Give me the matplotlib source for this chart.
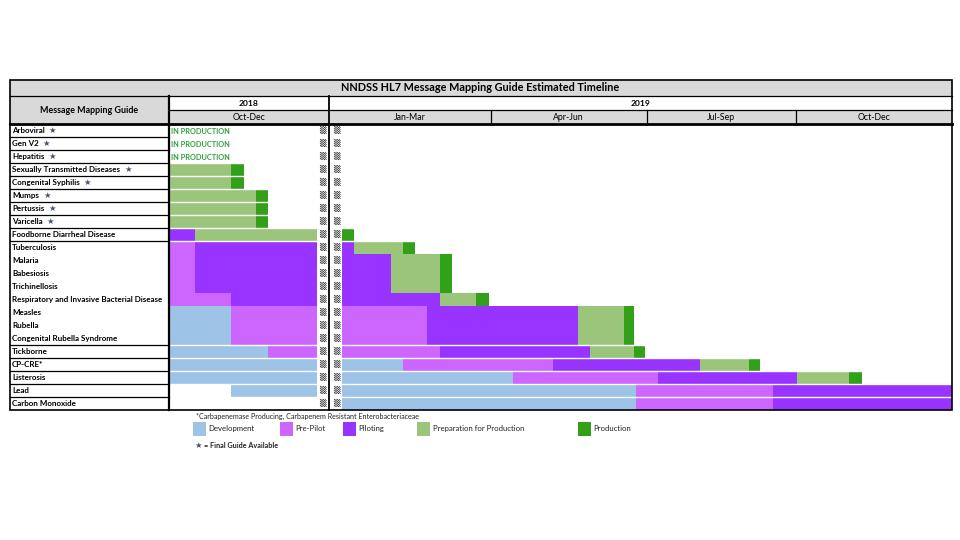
import matplotlib
matplotlib.use("Agg")
from matplotlib import pyplot as plt
from matplotlib.patches import Rectangle

plt.rcParams['font.family'] = ['Lato', 'DejaVu Sans']

# timeline units are weeks counted from Oct 2018 (12-14 is the year break)
guides = ["Arboviral", "Gen V2", "Hepatitis", "Sexually Transmitted Diseases",
          "Congenital Syphilis", "Mumps", "Pertussis", "Varicella",
          "Foodborne Diarrheal Disease", "Tuberculosis", "Malaria", "Babesiosis",
          "Trichinellosis", "Respiratory and Invasive Bacterial Disease", "Measles",
          "Rubella", "Congenital Rubella Syndrome", "Tickborne", "CP-CRE*",
          "Listerosis", "Lead", "Carbon Monoxide"]
final_guide = ["Arboviral", "Gen V2", "Hepatitis", "Sexually Transmitted Diseases",
               "Congenital Syphilis", "Mumps", "Pertussis", "Varicella"]
in_production = ["Arboviral", "Gen V2", "Hepatitis"]

development = [("Measles", 0, 5), ("Rubella", 0, 5), ("Congenital Rubella Syndrome", 0, 5),
               ("Tickborne", 0, 8), ("CP-CRE*", 0, 12), ("CP-CRE*", 14, 19),
               ("Listerosis", 0, 12), ("Listerosis", 14, 28),
               ("Lead", 5, 12), ("Lead", 14, 38), ("Carbon Monoxide", 14, 38)]
pre_pilot = [("Tuberculosis", 0, 2), ("Malaria", 0, 2), ("Babesiosis", 0, 2),
             ("Trichinellosis", 0, 2), ("Respiratory and Invasive Bacterial Disease", 0, 5),
             ("Measles", 5, 12), ("Measles", 14, 21), ("Rubella", 5, 12), ("Rubella", 14, 21),
             ("Congenital Rubella Syndrome", 5, 12), ("Congenital Rubella Syndrome", 14, 21),
             ("Tickborne", 8, 12), ("Tickborne", 14, 22), ("CP-CRE*", 19, 31.3),
             ("Listerosis", 28, 39.8), ("Lead", 38, 49.2), ("Carbon Monoxide", 38, 49.2)]
piloting = [("Foodborne Diarrheal Disease", 0, 2),
            ("Tuberculosis", 2, 12), ("Tuberculosis", 14, 15),
            ("Malaria", 2, 12), ("Malaria", 14, 18), ("Babesiosis", 2, 12), ("Babesiosis", 14, 18),
            ("Trichinellosis", 2, 12), ("Trichinellosis", 14, 18),
            ("Respiratory and Invasive Bacterial Disease", 5, 12),
            ("Respiratory and Invasive Bacterial Disease", 14, 22),
            ("Measles", 21, 33.3), ("Rubella", 21, 33.3), ("Congenital Rubella Syndrome", 21, 33.3),
            ("Tickborne", 22, 34.3), ("CP-CRE*", 31.3, 43.3), ("Listerosis", 39.8, 51.2),
            ("Lead", 49.2, 63.8), ("Carbon Monoxide", 49.2, 63.8)]
prep = [("Sexually Transmitted Diseases", 0, 5), ("Congenital Syphilis", 0, 5),
        ("Mumps", 0, 7), ("Pertussis", 0, 7), ("Varicella", 0, 7),
        ("Foodborne Diarrheal Disease", 2, 12), ("Tuberculosis", 15, 19),
        ("Malaria", 18, 22), ("Babesiosis", 18, 22), ("Trichinellosis", 18, 22),
        ("Respiratory and Invasive Bacterial Disease", 22, 25),
        ("Measles", 33.3, 37.1), ("Rubella", 33.3, 37.1), ("Congenital Rubella Syndrome", 33.3, 37.1),
        ("Tickborne", 34.3, 37.9), ("CP-CRE*", 43.3, 47.3), ("Listerosis", 51.2, 55.4)]
production = [("Sexually Transmitted Diseases", 5, 6), ("Congenital Syphilis", 5, 6),
              ("Mumps", 7, 8), ("Pertussis", 7, 8), ("Varicella", 7, 8),
              ("Foodborne Diarrheal Disease", 14, 15), ("Tuberculosis", 19, 20),
              ("Malaria", 22, 23), ("Babesiosis", 22, 23), ("Trichinellosis", 22, 23),
              ("Respiratory and Invasive Bacterial Disease", 25, 26),
              ("Measles", 37.1, 37.9), ("Rubella", 37.1, 37.9), ("Congenital Rubella Syndrome", 37.1, 37.9),
              ("Tickborne", 37.9, 38.8), ("CP-CRE*", 47.3, 48.2), ("Listerosis", 55.4, 56.5)]

phases = ["Development", "Pre-Pilot", "Piloting", "Preparation for Production", "Production"]
phase_colors = ["#9dc3e6", "#cc66ff", "#9933ff", "#9bc57b", "#33a01a"]

quarters = ["Oct-Dec", "Jan-Mar", "Apr-Jun", "Jul-Sep", "Oct-Dec"]
quarter_edges = [-0.1, 13.0, 26.2, 38.9, 51.1, 63.8]
years = ["2018", "2019"]
# rows after which the label column draws a separator
separated_after = [0, 1, 2, 3, 4, 5, 6, 7, 8, 16, 17, 18, 19, 20]

fig = plt.figure(figsize=(9.6, 5.4), dpi=100)
ax = fig.add_axes([0, 0, 1, 1])
ax.set_xlim(-13.88, 64.49)
ax.set_ylim(32.0, -9.54)
ax.axis('off')

left, lab_right, right = -13.1, -0.1, 63.8
t_top, t_bot, y_bot = -3.42, -2.13, -1.04
n = len(guides)
row = {g: i for i, g in enumerate(guides)}

# bars
for segs, color in zip([development, pre_pilot, piloting, prep, production], phase_colors):
    ys = [row[g] + 0.5 for g, s, e in segs]
    ax.barh(ys, [e - s for g, s, e in segs], left=[s for g, s, e in segs],
            height=1.0, color=color, linewidth=0, zorder=2)

# white row gaps in the timeline, black separators in label column
for r in separated_after:
    ax.plot([0, right], [r + 1, r + 1], color='white', lw=1.0, zorder=3)
    ax.plot([left, lab_right], [r + 1, r + 1], color='black', lw=0.9, zorder=4)

# header fills
ax.add_patch(Rectangle((left, t_top), right - left, t_bot - t_top, fc='#d9d9d9', ec='none', zorder=1))
ax.add_patch(Rectangle((left, t_bot), lab_right - left, -t_bot, fc='#d9d9d9', ec='none', zorder=1))
ax.add_patch(Rectangle((lab_right, y_bot), right - lab_right, -y_bot, fc='#d9d9d9', ec='none', zorder=1))

ax.text((left + right) / 2, (t_top + t_bot) / 2, "NNDSS HL7 Message Mapping Guide Estimated Timeline",
        ha='center', va='center', fontsize=7.8, fontweight='bold', zorder=5)
ax.text((left + lab_right) / 2, t_bot / 2, "Message Mapping Guide",
        ha='center', va='center', fontsize=6.4, fontweight='bold', zorder=5)
ax.text((quarter_edges[0] + quarter_edges[1]) / 2, (t_bot + y_bot) / 2, years[0],
        ha='center', va='center', fontsize=6.1, fontweight='bold', zorder=5)
ax.text((quarter_edges[1] + quarter_edges[-1]) / 2, (t_bot + y_bot) / 2, years[1],
        ha='center', va='center', fontsize=6.1, fontweight='bold', zorder=5)
for q, a, b in zip(quarters, quarter_edges[:-1], quarter_edges[1:]):
    ax.text((a + b) / 2, y_bot / 2, q, ha='center', va='center', fontsize=6.3, zorder=5)

# grid lines
ax.add_patch(Rectangle((left, t_top), right - left, n - t_top, fc='none', ec='black', lw=1.2, zorder=6))
ax.plot([left, right], [t_bot, t_bot], color='black', lw=0.9, zorder=6)
ax.plot([lab_right, right], [y_bot, y_bot], color='black', lw=0.9, zorder=6)
ax.plot([left, right], [0, 0], color='black', lw=2.0, zorder=6)
ax.plot([lab_right, lab_right], [t_bot, n], color='black', lw=1.6, zorder=6)
ax.plot([13.0, 13.0], [t_bot, n], color='black', lw=1.3, zorder=6)
for xq in quarter_edges[2:-1]:
    ax.plot([xq, xq], [y_bot, 0], color='black', lw=0.9, zorder=6)

# row labels, stars, status
for i, g in enumerate(guides):
    t = ax.text(left + 0.2, i + 0.5, g, ha='left', va='center', fontsize=5.8,
                fontweight='bold', zorder=5)
    if g in final_guide:
        ax.annotate("★", xy=(1, 0.5), xycoords=t, xytext=(3, 0), textcoords='offset points',
                    ha='left', va='center', fontsize=6, color='#44546a', family='DejaVu Sans')
    if g in in_production:
        ax.text(0.1, i + 0.55, "IN PRODUCTION", ha='left', va='center', fontsize=5.3,
                fontweight='bold', color='#2e9e3a', zorder=5)
    for xb in (12.4, 13.55):
        ax.text(xb, i + 0.4, "▒", ha='center', va='center', fontsize=6,
                color='#222222', family='DejaVu Sans', zorder=5)

# footnote and legend
ax.text(2.1, 22.5, "*Carbapenemase Producing, Carbapenem Resistant Enterobacteriaceae",
        ha='left', va='center', fontsize=5.1, color='#222222')
legend_x = [1.9, 9.0, 14.1, 20.2, 33.3]
for name, color, lx in zip(phases, phase_colors, legend_x):
    ax.add_patch(Rectangle((lx, 22.92), 1.06, 1.07, fc=color, ec='none'))
    ax.text(lx + 1.25, 23.45, name, ha='left', va='center', fontsize=5.6, color='#222222')
ax.text(2.0, 24.75, "★", ha='left', va='center', fontsize=6, color='#44546a', family='DejaVu Sans')
ax.text(2.75, 24.75, "= Final Guide Available", ha='left', va='center', fontsize=5.2,
        fontweight='bold', color='#222222')

fig.savefig("out.png", dpi=100)
